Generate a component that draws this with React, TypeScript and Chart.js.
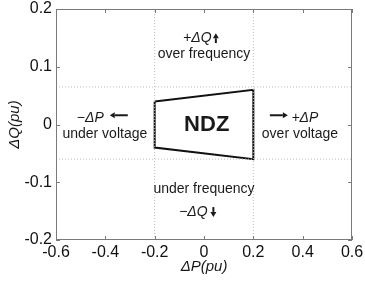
import React, { useEffect, useRef } from "react";
import { Chart, registerables } from "chart.js";

Chart.register(...registerables);

// ---- data ----
const ndzP = [-0.2, 0.2, 0.2, -0.2, -0.2];
const ndzQ = [0.04, 0.06, -0.06, -0.04, 0.04];
const boundaryP = [-0.2, 0.2];
const boundaryQ = [0.065, -0.06];
const xTickValues = [-0.6, -0.4, -0.2, 0, 0.2, 0.4, 0.6];
const xTickLabels = ["-0.6", "-0.4", "-0.2", "0", "0.2", "0.4", "0.6"];
const yTickValues = [-0.2, -0.1, 0, 0.1, 0.2];
const yTickLabels = ["-0.2", "-0.1", "0", "0.1", "0.2"];
const xTitle = "ΔP(pu)";
const yTitle = "ΔQ(pu)";

type Note = { text: string; x: number; y: number; style: "it" | "reg" | "bold" };
const notes: Note[] = [
  { text: "+ΔQ", x: -0.027, y: 0.143, style: "it" },
  { text: "over frequency", x: 0.0, y: 0.115, style: "reg" },
  { text: "NDZ", x: 0.011, y: 0.0, style: "bold" },
  { text: "−ΔP", x: -0.461, y: 0.004, style: "it" },
  { text: "under voltage", x: -0.402, y: -0.023, style: "reg" },
  { text: "+ΔP", x: 0.409, y: 0.004, style: "it" },
  { text: "over voltage", x: 0.389, y: -0.023, style: "reg" },
  { text: "under frequency", x: 0.0, y: -0.119, style: "reg" },
  { text: "−ΔQ", x: -0.043, y: -0.158, style: "it" },
];
// arrows: tail (x1,y1) -> head (x2,y2)
const arrows = [
  { x1: 0.048, y1: 0.141, x2: 0.048, y2: 0.158 },
  { x1: -0.309, y1: 0.016, x2: -0.382, y2: 0.016 },
  { x1: 0.267, y1: 0.016, x2: 0.34, y2: 0.016 },
  { x1: 0.038, y1: -0.143, x2: 0.038, y2: -0.16 },
];

const FONT = "'Liberation Sans', Arial, Helvetica, sans-serif";

const decor = {
  id: "decor",
  afterDraw(chart: any) {
    const { ctx, chartArea: a, scales } = chart;
    const xs = scales.x;
    const ys = scales.y;
    ctx.save();
    // frame
    ctx.strokeStyle = "#7a7a7a";
    ctx.lineWidth = 1;
    ctx.strokeRect(a.left + 0.5, a.top + 0.5, a.right - a.left - 1, a.bottom - a.top - 1);
    // inward ticks
    const tl = 4;
    ctx.beginPath();
    xTickValues.forEach((v) => {
      const px = Math.round(xs.getPixelForValue(v)) + 0.5;
      ctx.moveTo(px, a.bottom);
      ctx.lineTo(px, a.bottom - tl);
      ctx.moveTo(px, a.top);
      ctx.lineTo(px, a.top + tl);
    });
    yTickValues.forEach((v) => {
      const py = Math.round(ys.getPixelForValue(v)) + 0.5;
      ctx.moveTo(a.left, py);
      ctx.lineTo(a.left + tl, py);
      ctx.moveTo(a.right, py);
      ctx.lineTo(a.right - tl, py);
    });
    ctx.stroke();

    // tick labels
    ctx.fillStyle = "#111";
    ctx.font = `16px ${FONT}`;
    ctx.textBaseline = "middle";
    ctx.textAlign = "right";
    yTickValues.forEach((v, i) => {
      ctx.fillText(yTickLabels[i], a.left - 4, ys.getPixelForValue(v));
    });
    ctx.textAlign = "center";
    xTickValues.forEach((v, i) => {
      ctx.fillText(xTickLabels[i], xs.getPixelForValue(v), a.bottom + 13);
    });

    // notes
    ctx.fillStyle = "#1a1a1a";
    ctx.textAlign = "center";
    notes.forEach((n) => {
      const px = xs.getPixelForValue(n.x);
      const py = ys.getPixelForValue(n.y);
      if (n.style === "bold") {
        ctx.font = `bold 22px ${FONT}`;
        ctx.textBaseline = "middle";
      } else if (n.style === "it") {
        ctx.font = `italic 14px ${FONT}`;
        ctx.textBaseline = "alphabetic";
      } else {
        ctx.font = `14px ${FONT}`;
        ctx.textBaseline = "alphabetic";
      }
      ctx.fillText(n.text, px, py);
    });

    // arrows
    ctx.strokeStyle = "#1a1a1a";
    ctx.lineWidth = 2;
    arrows.forEach((ar) => {
      const x1 = xs.getPixelForValue(ar.x1);
      const y1 = ys.getPixelForValue(ar.y1);
      const x2 = xs.getPixelForValue(ar.x2);
      const y2 = ys.getPixelForValue(ar.y2);
      const ang = Math.atan2(y2 - y1, x2 - x1);
      const hl = 5;
      const hw = 3;
      const bx = x2 - hl * Math.cos(ang);
      const by = y2 - hl * Math.sin(ang);
      ctx.beginPath();
      ctx.moveTo(x1, y1);
      ctx.lineTo(bx, by);
      ctx.stroke();
      ctx.beginPath();
      ctx.moveTo(x2, y2);
      ctx.lineTo(bx + hw * Math.sin(ang), by - hw * Math.cos(ang));
      ctx.lineTo(bx - hw * Math.sin(ang), by + hw * Math.cos(ang));
      ctx.closePath();
      ctx.fill();
    });

    // axis titles
    ctx.fillStyle = "#1a1a1a";
    ctx.font = `italic 15px ${FONT}`;
    ctx.textAlign = "center";
    ctx.textBaseline = "alphabetic";
    ctx.fillText(xTitle, (a.left + a.right) / 2, 271);
    ctx.translate(19, (a.top + a.bottom) / 2);
    ctx.rotate(-Math.PI / 2);
    ctx.fillText(yTitle, 0, 0);
    ctx.restore();
  },
};

export default function App() {
  const ref = useRef<HTMLCanvasElement>(null);
  useEffect(() => {
    if (!ref.current) return;
    const ndz = ndzP.map((p, i) => ({ x: p, y: ndzQ[i] }));
    const dotted = { borderColor: "#bdbdbd", borderWidth: 1, borderDash: [1, 2], pointRadius: 0, showLine: true, fill: false };
    const chart = new Chart(ref.current, {
      type: "scatter",
      data: {
        datasets: [
          { ...dotted, data: [{ x: boundaryP[0], y: -0.2 }, { x: boundaryP[0], y: 0.2 }] },
          { ...dotted, data: [{ x: boundaryP[1], y: -0.2 }, { x: boundaryP[1], y: 0.2 }] },
          { ...dotted, data: [{ x: -0.6, y: boundaryQ[0] }, { x: 0.6, y: boundaryQ[0] }] },
          { ...dotted, data: [{ x: -0.6, y: boundaryQ[1] }, { x: 0.6, y: boundaryQ[1] }] },
          {
            data: ndz,
            showLine: true,
            borderColor: "#111",
            borderWidth: 2,
            pointRadius: 0,
            fill: false,
            tension: 0,
          } as any,
        ],
      },
      options: {
        responsive: false,
        animation: false,
        events: [],
        layout: { padding: { top: 9, right: 13, left: 0, bottom: 0 } },
        plugins: { legend: { display: false }, tooltip: { enabled: false } },
        scales: {
          x: {
            type: "linear",
            min: -0.6,
            max: 0.6,
            grid: { display: false },
            border: { display: false },
            ticks: { display: false },
            afterFit: (s: any) => {
              s.height = 41;
              s.paddingLeft = 0;
              s.paddingRight = 0;
            },
          },
          y: {
            type: "linear",
            min: -0.2,
            max: 0.2,
            grid: { display: false },
            border: { display: false },
            ticks: { display: false },
            afterFit: (s: any) => {
              s.width = 56;
              s.paddingTop = 0;
              s.paddingBottom = 0;
            },
          },
        },
      },
      plugins: [decor],
    });
    return () => chart.destroy();
  }, []);
  return (
    <div style={{ position: "fixed", left: 0, top: 0, width: 365, height: 281, background: "#fff" }}>
      <canvas ref={ref} width={365} height={281} style={{ width: 365, height: 281 }} />
    </div>
  );
}
